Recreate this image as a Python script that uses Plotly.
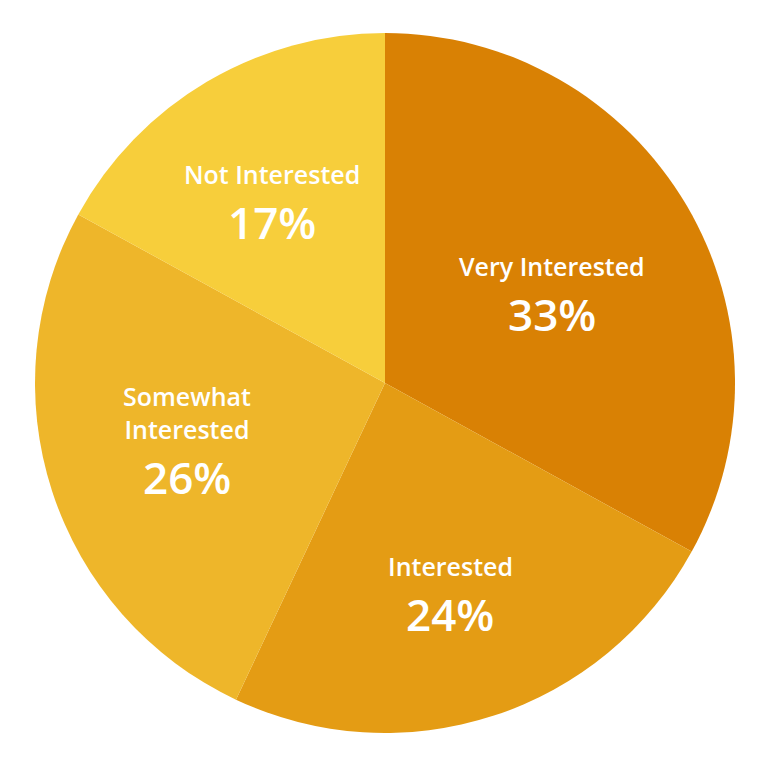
import math
import plotly.graph_objects as go

categories = ["Very Interested", "Interested", "Somewhat<br>Interested", "Not Interested"]
values = [33, 24, 26, 17]
colors = ["#D98104", "#E49C14", "#EEB62A", "#F7CE3B"]

W = H = 768
# page body offset of 8px is compensated here
cx, cy, R = 377, 375, 350

fig = go.Figure(go.Pie(
    labels=categories, values=values, sort=False, direction="clockwise", rotation=0,
    marker=dict(colors=colors, line=dict(width=0)),
    textinfo="none", hoverinfo="skip", showlegend=False,
    domain=dict(x=[(cx - R) / W, (cx + R) / W], y=[(H - cy - R) / H, (H - cy + R) / H]),
))

font_family = "Open Sans"
total = sum(values)
cum = 0
annotations = []
for cat, v in zip(categories, values):
    alpha = v / total * 2 * math.pi
    mid = cum / total * 2 * math.pi + alpha / 2
    cum += v
    r = 4 * R * math.sin(alpha / 2) / (3 * alpha)  # sector centroid
    px = cx + r * math.sin(mid)
    py = cy - r * math.cos(mid) + 30
    pct = f"{round(v / total * 100)}%"
    annotations.append(dict(x=px / W, y=1 - py / H, xref="paper", yref="paper",
                            text=pct, showarrow=False, yanchor="middle", xanchor="center",
                            font=dict(family=font_family, size=44, color="white", weight=600)))
    annotations.append(dict(x=px / W, y=1 - (py - 29) / H, xref="paper", yref="paper",
                            text=cat, showarrow=False, yanchor="bottom", xanchor="center",
                            font=dict(family=font_family, size=25, color="white", weight=600)))

fig.update_layout(width=W, height=H, margin=dict(l=0, r=0, t=0, b=0),
                  paper_bgcolor="white", plot_bgcolor="white", annotations=annotations)
fig.write_html("out.html")
